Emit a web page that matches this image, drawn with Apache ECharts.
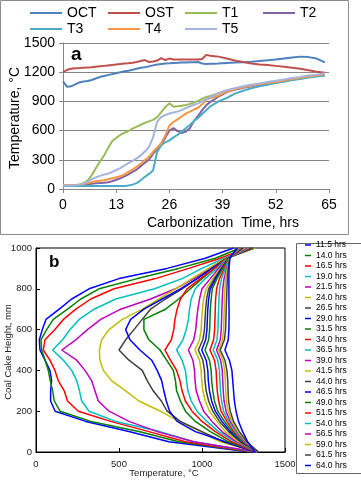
<!DOCTYPE html>
<html>
<head>
<meta charset="utf-8">
<script src="https://cdn.jsdelivr.net/npm/echarts@6/dist/echarts.min.js"></script>
<style>
  html, body { margin: 0; padding: 0; background: #fff; }
  #chart { width: 361px; height: 480px; }
</style>
</head>
<body>
<div id="chart"></div>
<script>
const FONT = "'Liberation Sans', Arial, sans-serif";

// ---- panel a: temperature vs carbonization time ----
const timeHrs = [0, 1, 2, 3, 4, 5, 6, 7, 8, 9, 10, 11, 12, 13, 14, 15, 16, 17, 18, 19, 20, 21, 22, 23, 24, 25, 26, 27, 28, 29, 30, 31, 32, 33, 34, 35, 36, 37, 38, 40, 42, 44, 46, 48, 50, 52, 54, 56, 58, 60, 62, 64];
const probeNames = ["OCT", "OST", "T1", "T2", "T3", "T4", "T5"];
const octTemps = [1105, 1050, 1055, 1075, 1095, 1105, 1110, 1120, 1135, 1150, 1160, 1170, 1180, 1190, 1200, 1210, 1215, 1225, 1235, 1245, 1250, 1260, 1270, 1280, 1285, 1290, 1292, 1295, 1297, 1300, 1300, 1302, 1303, 1305, 1290, 1285, 1287, 1288, 1290, 1295, 1300, 1303, 1308, 1315, 1322, 1330, 1340, 1350, 1360, 1355, 1340, 1300];
const ostTemps = [1200, 1225, 1235, 1240, 1242, 1245, 1248, 1250, 1255, 1260, 1265, 1270, 1275, 1280, 1285, 1290, 1293, 1297, 1305, 1315, 1325, 1305, 1310, 1320, 1345, 1325, 1340, 1330, 1330, 1330, 1330, 1330, 1330, 1330, 1335, 1378, 1370, 1365, 1360, 1340, 1320, 1305, 1290, 1280, 1275, 1265, 1255, 1245, 1235, 1220, 1205, 1195];
const t1Temps = [35, 35, 36, 38, 45, 60, 85, 140, 210, 280, 340, 420, 490, 525, 555, 578, 598, 620, 640, 660, 680, 695, 710, 735, 790, 840, 880, 845, 850, 855, 862, 875, 890, 905, 925, 945, 955, 970, 985, 1010, 1030, 1045, 1060, 1075, 1090, 1100, 1115, 1130, 1140, 1155, 1165, 1180];
const t2Temps = [40, 40, 40, 40, 42, 45, 50, 55, 60, 62, 65, 70, 80, 95, 110, 130, 150, 175, 200, 235, 270, 300, 360, 410, 450, 530, 600, 625, 595, 575, 590, 625, 700, 750, 810, 860, 895, 920, 950, 995, 1020, 1040, 1055, 1070, 1085, 1095, 1110, 1125, 1135, 1150, 1160, 1170];
const t3Temps = [30, 30, 30, 30, 30, 30, 30, 30, 30, 30, 30, 30, 30, 30, 30, 30, 35, 45, 60, 90, 125, 155, 190, 380, 450, 480, 500, 530, 555, 590, 625, 658, 700, 730, 770, 810, 850, 875, 900, 935, 980, 1010, 1035, 1055, 1072, 1088, 1102, 1120, 1130, 1145, 1155, 1165];
const t4Temps = [40, 40, 40, 42, 45, 50, 60, 70, 80, 85, 90, 100, 110, 120, 130, 150, 175, 200, 230, 260, 295, 330, 380, 425, 470, 550, 650, 690, 715, 745, 775, 795, 815, 835, 870, 915, 935, 945, 960, 1000, 1025, 1045, 1060, 1075, 1090, 1100, 1115, 1130, 1140, 1155, 1165, 1180];
const t5Temps = [35, 35, 35, 38, 45, 55, 75, 100, 120, 135, 148, 158, 175, 195, 215, 240, 265, 290, 315, 345, 385, 430, 530, 690, 740, 760, 775, 785, 795, 810, 830, 850, 865, 880, 900, 920, 945, 965, 985, 1015, 1035, 1055, 1070, 1085, 1100, 1112, 1125, 1140, 1150, 1165, 1175, 1190];
const probeTemps = [octTemps, ostTemps, t1Temps, t2Temps, t3Temps, t4Temps, t5Temps];
const tempTicksA = [0, 300, 600, 900, 1200, 1500];
const timeTicksA = [0, 13, 26, 39, 52, 65];

// ---- panel b: coal cake height vs temperature profiles ----
const heightsMm = [0, 50, 100, 150, 200, 250, 300, 350, 400, 450, 500, 550, 600, 650, 700, 750, 800, 850, 900, 950, 1000];
const profileNames = ["11.5 hrs", "14.0 hrs", "16.5 hrs", "19.0 hrs", "21.5 hrs", "24.0 hrs", "26.5 hrs", "29.0 hrs", "31.5 hrs", "34.0 hrs", "36.5 hrs", "39.0 hrs", "41.5 hrs", "44.0 hrs", "46.5 hrs", "49.0 hrs", "51.5 hrs", "54.0 hrs", "56.5 hrs", "59.0 hrs", "61.5 hrs", "64.0 hrs"];
const p115 = [1290, 800, 560, 300, 115, 88, 88, 94, 84, 54, 24, 20, 38, 60, 140, 215, 320, 500, 790, 1020, 1190];
const p140 = [1300, 860, 620, 330, 145, 110, 100, 86, 74, 55, 34, 30, 64, 104, 190, 270, 380, 610, 860, 1080, 1230];
const p165 = [1310, 900, 680, 450, 255, 190, 170, 134, 114, 84, 44, 54, 114, 165, 240, 330, 470, 720, 920, 1110, 1270];
const p190 = [1320, 950, 746, 480, 320, 275, 262, 245, 215, 165, 100, 160, 205, 260, 350, 480, 715, 880, 1000, 1130, 1300];
const p215 = [1330, 950, 730, 560, 440, 375, 355, 335, 295, 245, 155, 240, 310, 390, 510, 690, 840, 950, 1050, 1140, 1320];
const p240 = [1330, 1110, 990, 860, 750, 620, 540, 455, 406, 385, 382, 395, 440, 520, 640, 740, 840, 940, 1040, 1140, 1320];
const p265 = [1330, 1130, 1000, 870, 790, 755, 706, 670, 640, 560, 500, 540, 590, 640, 690, 780, 880, 970, 1060, 1150, 1310];
const p290 = [1320, 1140, 960, 850, 805, 785, 770, 757, 730, 697, 626, 566, 540, 570, 650, 760, 870, 970, 1060, 1150, 1300];
const p315 = [1330, 1160, 1050, 960, 900, 870, 847, 840, 827, 787, 747, 680, 650, 650, 780, 860, 930, 1000, 1075, 1150, 1300];
const p340 = [1330, 1180, 1080, 1000, 940, 900, 880, 867, 847, 810, 777, 815, 830, 837, 850, 870, 910, 990, 1075, 1150, 1290];
const p365 = [1335, 1200, 1100, 1030, 970, 935, 915, 907, 900, 880, 847, 885, 905, 918, 925, 935, 960, 1020, 1090, 1150, 1280];
const p390 = [1335, 1210, 1120, 1060, 1010, 985, 965, 958, 955, 945, 918, 950, 962, 968, 975, 985, 1000, 1050, 1100, 1155, 1270];
const p415 = [1340, 1220, 1140, 1090, 1045, 1020, 1005, 998, 995, 985, 958, 985, 995, 998, 1003, 1010, 1025, 1065, 1110, 1155, 1260];
const p440 = [1340, 1230, 1160, 1105, 1065, 1040, 1025, 1018, 1015, 1005, 978, 1005, 1015, 1018, 1022, 1028, 1040, 1075, 1115, 1158, 1250];
const p465 = [1340, 1240, 1170, 1120, 1080, 1058, 1045, 1038, 1035, 1025, 998, 1022, 1030, 1032, 1035, 1040, 1050, 1082, 1120, 1158, 1245];
const p490 = [1340, 1245, 1180, 1135, 1095, 1075, 1065, 1058, 1055, 1045, 1018, 1040, 1046, 1048, 1050, 1055, 1062, 1090, 1125, 1160, 1240];
const p515 = [1340, 1250, 1190, 1150, 1115, 1100, 1092, 1088, 1085, 1075, 1048, 1070, 1076, 1078, 1080, 1082, 1088, 1105, 1135, 1162, 1235];
const p540 = [1340, 1255, 1200, 1160, 1130, 1118, 1111, 1108, 1105, 1095, 1068, 1090, 1096, 1098, 1100, 1102, 1106, 1118, 1140, 1163, 1230];
const p565 = [1340, 1260, 1210, 1170, 1145, 1133, 1128, 1125, 1122, 1112, 1088, 1110, 1116, 1118, 1120, 1122, 1125, 1133, 1148, 1164, 1225];
const p590 = [1340, 1265, 1215, 1180, 1158, 1147, 1143, 1140, 1137, 1126, 1100, 1124, 1130, 1132, 1134, 1136, 1138, 1143, 1152, 1165, 1220];
const p615 = [1340, 1270, 1225, 1190, 1170, 1160, 1157, 1155, 1150, 1138, 1110, 1135, 1142, 1144, 1146, 1148, 1150, 1153, 1158, 1166, 1215];
const p640 = [1320, 1275, 1245, 1220, 1205, 1195, 1190, 1185, 1180, 1165, 1138, 1158, 1162, 1163, 1163, 1162, 1162, 1162, 1163, 1168, 1210];
const profileTemps = [p115, p140, p165, p190, p215, p240, p265, p290, p315, p340, p365, p390, p415, p440, p465, p490, p515, p540, p565, p590, p615, p640];

// ---- styles ----
const probeColors = ["#4f81bd", "#c0504d", "#9bbb59", "#8064a2", "#4bacc6", "#f79646", "#a4b4dc"];
const probeLegendPos = [[30, 6], [108, 6], [185, 6], [263, 6], [30, 22], [108, 22], [185, 22]];
const matlabColors = ["#0000ff", "#008000", "#ff0000", "#00bfbf", "#bf00bf", "#bfbf00", "#404040"];
const gridLineColor = "#868686";
const plainNumber = (v) => String(v);

const chart = echarts.init(document.getElementById("chart"), null, { renderer: "canvas" });

const seriesA = probeNames.map((name, i) => ({
  name,
  type: "line",
  xAxisIndex: 0,
  yAxisIndex: 0,
  data: timeHrs.map((t, j) => [t, probeTemps[i][j]]),
  symbol: "none",
  showSymbol: false,
  lineStyle: { width: 2, color: probeColors[i] },
  itemStyle: { color: probeColors[i] }
}));

const seriesB = profileNames.map((name, i) => {
  const color = matlabColors[i % matlabColors.length];
  return {
    name,
    type: "line",
    xAxisIndex: 1,
    yAxisIndex: 1,
    data: heightsMm.map((h, j) => [profileTemps[i][j], h]),
    symbol: "none",
    showSymbol: false,
    lineStyle: { width: 1.5, color },
    itemStyle: { color }
  };
});

const legendsA = probeNames.map((name, i) => ({
  data: [name],
  left: probeLegendPos[i][0],
  top: probeLegendPos[i][1],
  padding: 0,
  icon: "rect",
  itemWidth: 32,
  itemHeight: 2,
  selectedMode: false,
  textStyle: { fontFamily: FONT, fontSize: 14, lineHeight: 14, color: "#000" }
}));

const legendB = {
  data: profileNames,
  orient: "vertical",
  left: 305,
  top: 240,
  padding: 0,
  icon: "rect",
  itemWidth: 6,
  itemHeight: 1.5,
  itemGap: 0.5,
  z: 10,
  selectedMode: false,
  textStyle: { fontFamily: FONT, fontSize: 8.5, lineHeight: 10, color: "#000" }
};

function titleText(text, x, y, size, color, vertical) {
  return {
    type: "text",
    x,
    y,
    rotation: vertical ? Math.PI / 2 : 0,
    style: { text, font: size + "px " + FONT, fill: color, textAlign: "center", textVerticalAlign: "middle" },
    z: 5
  };
}

chart.setOption({
  animation: false,
  backgroundColor: "#fff",
  textStyle: { fontFamily: FONT },
  grid: [
    { left: 63, top: 43, width: 266, height: 146, outerBoundsMode: "none", containLabel: false },
    { left: 36, top: 248, width: 249, height: 204, outerBoundsMode: "none", containLabel: false, show: true, borderColor: "#000", borderWidth: 1, backgroundColor: "transparent" }
  ],
  legend: [...legendsA, legendB],
  xAxis: [
    {
      gridIndex: 0,
      type: "value",
      min: timeTicksA[0],
      max: timeTicksA[timeTicksA.length - 1],
      interval: 13,
      axisLine: { show: true, onZero: false, lineStyle: { color: gridLineColor } },
      axisTick: { show: true, length: 4, lineStyle: { color: gridLineColor } },
      splitLine: { show: false },
      axisLabel: { fontSize: 14, color: "#000", margin: 9, formatter: plainNumber }
    },
    {
      gridIndex: 1,
      type: "value",
      min: 0,
      max: 1500,
      interval: 500,
      axisLine: { show: true, onZero: false, lineStyle: { color: "#000" } },
      axisTick: { show: true, inside: true, length: 4, lineStyle: { color: "#000" } },
      splitLine: { show: false },
      axisLabel: { fontSize: 9.5, color: "#222", margin: 7, formatter: plainNumber }
    }
  ],
  yAxis: [
    {
      gridIndex: 0,
      type: "value",
      min: tempTicksA[0],
      max: tempTicksA[tempTicksA.length - 1],
      interval: 300,
      axisLine: { show: true, onZero: false, lineStyle: { color: gridLineColor } },
      axisTick: { show: true, length: 4, lineStyle: { color: gridLineColor } },
      splitLine: { show: true, lineStyle: { color: gridLineColor, width: 1 } },
      axisLabel: { fontSize: 14, color: "#000", margin: 8, formatter: plainNumber }
    },
    {
      gridIndex: 1,
      type: "value",
      min: 0,
      max: 1000,
      interval: 200,
      axisLine: { show: true, onZero: false, lineStyle: { color: "#000" } },
      axisTick: { show: true, inside: true, length: 4, lineStyle: { color: "#000" } },
      splitLine: { show: false },
      axisLabel: { fontSize: 9.5, color: "#222", margin: 4, formatter: plainNumber }
    }
  ],
  graphic: [
    {
      type: "rect",
      shape: { x: 0.5, y: 0.5, width: 348, height: 234 },
      style: { fill: "none", stroke: "#8c8c8c", lineWidth: 1 },
      z: 1
    },
    {
      type: "text",
      left: 71,
      top: 45,
      style: { text: "a", font: "bold 19px " + FONT, fill: "#000" },
      z: 5
    },
    titleText("Carbonization  Time, hrs", 223, 223, 14, "#000", false),
    titleText("Temperature, °C", 15, 118, 14, "#000", true),
    {
      type: "text",
      left: 49,
      top: 254,
      style: { text: "b", font: "bold 17px " + FONT, fill: "#000" },
      z: 5
    },
    titleText("Temperature, °C", 164, 473, 9.5, "#222", false),
    titleText("Coal Cake Height, mm", 8, 352, 9.5, "#222", true),
    {
      type: "rect",
      shape: { x: 296.5, y: 243.5, width: 70, height: 230 },
      style: { fill: "#fff", stroke: "#666", lineWidth: 1 },
      z: 2
    }
  ],
  series: [...seriesA, ...seriesB]
});
</script>
</body>
</html>
